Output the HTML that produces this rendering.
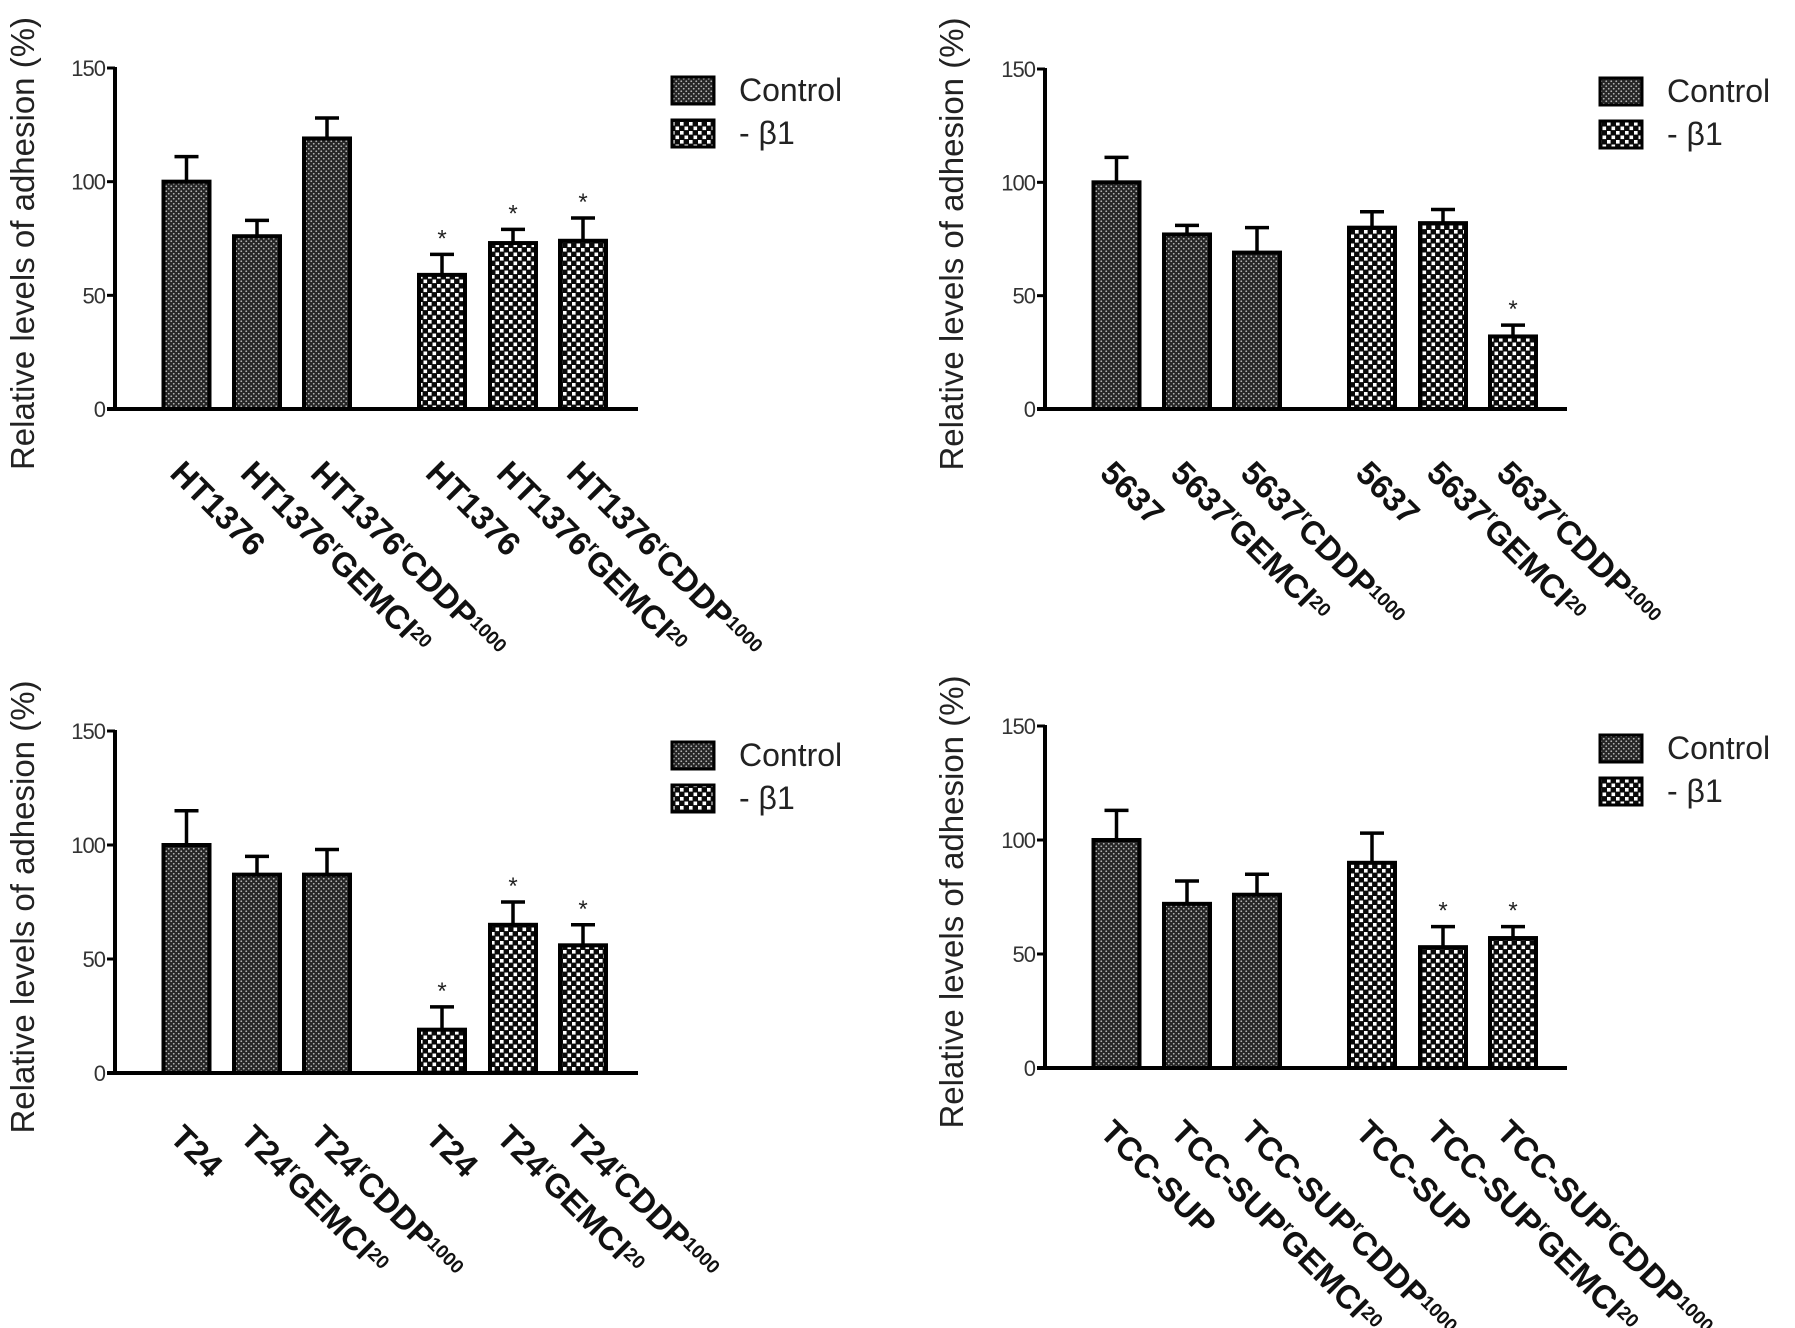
<!DOCTYPE html>
<html><head><meta charset="utf-8"><style>
html,body{margin:0;padding:0;background:#fff;}
svg{display:block;font-family:"Liberation Sans",Arial,sans-serif;}
</style></head>
<body>
<svg id="fig" width="1795" height="1328" viewBox="0 0 1795 1328">
<defs>
<pattern id="pCtrl" width="5" height="5" patternUnits="userSpaceOnUse">
<rect width="5" height="5" fill="#262626"/>
<circle cx="1.25" cy="1.25" r="0.9" fill="#b5b5b5"/>
<circle cx="3.75" cy="3.75" r="0.9" fill="#b5b5b5"/>
</pattern>
<pattern id="pB1" width="9" height="9" patternUnits="userSpaceOnUse">
<rect width="9" height="9" fill="#0a0a0a"/>
<rect x="0.5" y="0.5" width="3.6" height="3.6" fill="#fff"/>
<rect x="5" y="5" width="3.6" height="3.6" fill="#fff"/>
</pattern>
</defs>
</svg>
<script>
// ---- data ----
const yTicks = [0, 50, 100, 150];
const tlNames = ["HT1376", "HT1376", "HT1376"];
const tlCtrl = [100, 76, 119];
const tlCtrlErr = [11, 7, 9];
const tlB1 = [59, 73, 74];
const tlB1Err = [9, 6, 10];
const tlStar = [false, false, false, true, true, true];

const trNames = ["5637", "5637", "5637"];
const trCtrl = [100, 77, 69];
const trCtrlErr = [11, 4, 11];
const trB1 = [80, 82, 32];
const trB1Err = [7, 6, 5];
const trStar = [false, false, false, false, false, true];

const blNames = ["T24", "T24", "T24"];
const blCtrl = [100, 87, 87];
const blCtrlErr = [15, 8, 11];
const blB1 = [19, 65, 56];
const blB1Err = [10, 10, 9];
const blStar = [false, false, false, true, true, true];

const brNames = ["TCC-SUP", "TCC-SUP", "TCC-SUP"];
const brCtrl = [100, 72, 76];
const brCtrlErr = [13, 10, 9];
const brB1 = [90, 53, 57];
const brB1Err = [13, 9, 5];
const brStar = [false, false, false, false, true, true];

const legendLabels = ["Control", "- \u03b21"];

const NS = "http://www.w3.org/2000/svg";
const svg = document.getElementById("fig");
function mk(tag, attrs, parent) {
  const e = document.createElementNS(NS, tag);
  for (const k in attrs) e.setAttribute(k, attrs[k]);
  (parent || svg).appendChild(e);
  return e;
}

function panel(id, ax, y150, y0, axEnd, legY, legX, names, ctrl, ctrlErr, b1, b1Err, stars, titleX) {
  const g = mk("g", {});
  
  
  const yS = v => y0 - (v / 150) * (y0 - y150);
  const yax = mk("line", {x1: ax, y1: y150 - 1, x2: ax, y2: y0 + 2, stroke: "#000", "stroke-width": 4}, g);
  
  
  const xax = mk("line", {x1: ax - 8, y1: y0, x2: axEnd, y2: y0, stroke: "#000", "stroke-width": 4}, g);
  
  
  yTicks.forEach(t => {
    const ty = yS(t);
    mk("line", {x1: ax - 8, y1: ty, x2: ax, y2: ty, stroke: "#000", "stroke-width": 3}, g);
    const tl = mk("text", {x: ax - 10, y: ty + 8, "text-anchor": "end", "font-size": 22, fill: "#333", "letter-spacing": "-1"}, g);
    tl.textContent = t;
    
    
  });
  const tcy = (y150 + y0) / 2 + 5;
  const tt = mk("text", {x: titleX, y: tcy, "text-anchor": "middle", "font-size": 33, fill: "#222",
    transform: `rotate(-90 ${titleX} ${tcy})`}, g);
  tt.textContent = "Relative levels of adhesion (%)";
  
  
  const vals = ctrl.concat(b1), errs = ctrlErr.concat(b1Err);
  const offs = [46.5, 117, 187, 302, 373, 443];
  const bw = 50;
  vals.forEach((v, i) => {
    const cx = ax + offs[i] + bw / 2;
    const top = yS(v), eTop = yS(v + errs[i]);
    const el = mk("line", {x1: cx, y1: top, x2: cx, y2: eTop, stroke: "#000", "stroke-width": 3.5}, g);
    
    
    mk("line", {x1: cx - 12, y1: eTop, x2: cx + 12, y2: eTop, stroke: "#000", "stroke-width": 3.5}, g);
    const r = mk("rect", {x: cx - bw / 2 + 2, y: top, width: bw - 4, height: y0 - top,
      fill: i < 3 ? "url(#pCtrl)" : "url(#pB1)", stroke: "#000", "stroke-width": 4}, g);
    
    
    if (stars[i]) {
      const s = mk("text", {x: cx, y: eTop - 8, "text-anchor": "middle", "font-size": 24, fill: "#222"}, g);
      s.textContent = "*";
      
      
    }
    const k = i % 3;
    const bx = cx - 18, by = y0 + 66;
    const lab = mk("text", {x: bx, y: by, "font-size": 33, "font-weight": "bold", fill: "#111",
      transform: `rotate(45 ${bx} ${by})`}, g);
    
    
    const base = mk("tspan", {}, lab); base.textContent = names[k];
    if (k > 0) {
      const s1 = mk("tspan", {"font-size": 19, dy: -13}, lab); s1.textContent = "r";
      const s2 = mk("tspan", {dy: 13}, lab); s2.textContent = k === 1 ? "GEMCI" : "CDDP";
      const s3 = mk("tspan", {"font-size": 19, dy: -8}, lab); s3.textContent = k === 1 ? "20" : "1000";
    }
  });
  legendLabels.forEach((L, j) => {
    const ly = legY + j * 43;
    const lb = mk("rect", {x: legX, y: ly, width: 42, height: 27, fill: j === 0 ? "url(#pCtrl)" : "url(#pB1)", stroke: "#000", "stroke-width": 3}, g);
    
    
    const lt = mk("text", {x: legX + 67, y: ly + 24, "font-size": 32, fill: "#222"}, g);
    lt.textContent = L;
    
    
  });
}

panel("top-left", 115, 68, 409, 638, 77, 672, tlNames, tlCtrl, tlCtrlErr, tlB1, tlB1Err, tlStar, 34);
panel("top-right", 1045, 69, 409, 1567, 78, 1600, trNames, trCtrl, trCtrlErr, trB1, trB1Err, trStar, 963);
panel("bottom-left", 115, 731, 1073, 638, 742, 672, blNames, blCtrl, blCtrlErr, blB1, blB1Err, blStar, 34);
panel("bottom-right", 1045, 726, 1068, 1567, 735, 1600, brNames, brCtrl, brCtrlErr, brB1, brB1Err, brStar, 963);
</script>
</body></html>
